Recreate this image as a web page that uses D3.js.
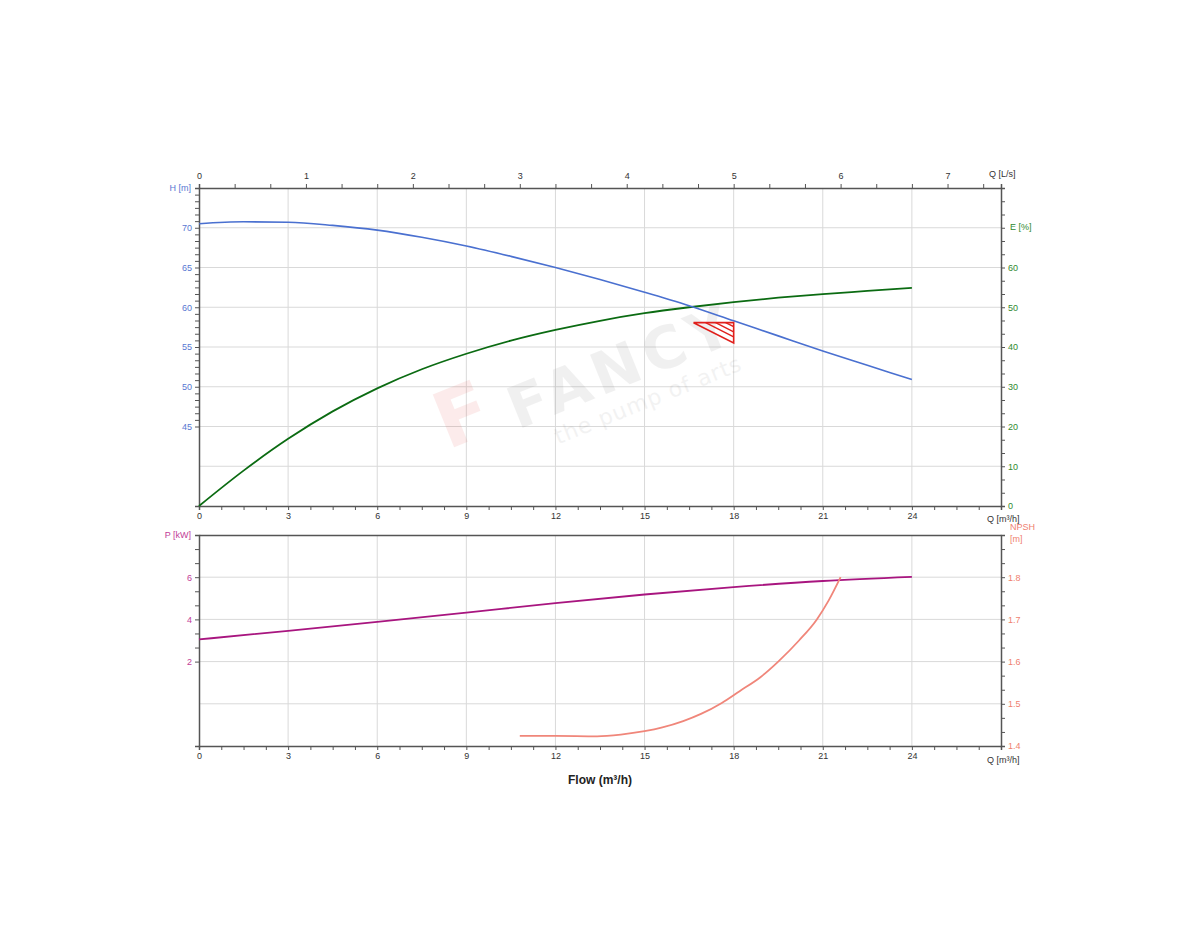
<!DOCTYPE html>
<html>
<head>
<meta charset="UTF-8">
<title>Pump curve</title>
<script src="https://cdn.jsdelivr.net/npm/d3@7/dist/d3.min.js"></script>
<style>
  body { margin: 0; background: #fff; }
  .axis text { font-family: "Liberation Sans", Arial, sans-serif; font-size: 9px; }
  .axis path.domain { stroke: #555; stroke-width: 1.5; }
  .axis line { stroke: #555; }
  .grid line { stroke: #d9d9d9; stroke-width: 1; }
  .unit { font-family: "Liberation Sans", Arial, sans-serif; font-size: 9px; }
</style>
</head>
<body>
<svg id="svg"></svg>
<script>
var WIDTH = 1200, HEIGHT = 950;
var LEFT = 199, RIGHT = 1001;
var TOP1 = 188, BOT1 = 506;
var TOP2 = 535, BOT2 = 746;

// ---- data ----
var flowQ = [0, 1.5, 3, 4.5, 6, 7.5, 9, 10.5, 12, 13.5, 15, 16.5, 18, 19.5, 21, 22.5, 24];
var headH = [70.5, 70.75, 70.7, 70.3, 69.7, 68.8, 67.7, 66.4, 65.0, 63.5, 61.9, 60.2, 58.3, 56.4, 54.5, 52.7, 50.9];
var effE  = [0, 8.9, 16.9, 23.8, 29.6, 34.4, 38.3, 41.6, 44.3, 46.6, 48.5, 50.0, 51.3, 52.4, 53.3, 54.1, 54.9];

var powerQ = [0, 3, 6, 9, 12, 15, 18, 21, 24];
var powerP = [3.05, 3.46, 3.88, 4.32, 4.77, 5.18, 5.53, 5.82, 6.02];

var npshQ = [10.8, 12, 13.4, 14.2, 15, 15.6, 16.3, 16.9, 17.6, 18.2, 18.9, 19.5, 20.2, 20.8, 21.2, 21.6];
var npshV = [1.424, 1.424, 1.423, 1.427, 1.435, 1.444, 1.459, 1.476, 1.502, 1.53, 1.563, 1.60, 1.65, 1.70, 1.745, 1.80];

// duty point tolerance triangle
var triQ = [16.65, 18, 18];
var triH = [58.06, 58.06, 55.5];

var qTicks = [0, 3, 6, 9, 12, 15, 18, 21, 24];
var hTicks = [45, 50, 55, 60, 65, 70];
var eTicks = [0, 10, 20, 30, 40, 50, 60];
var pTicks = [2, 4, 6];
var npshTicks = [1.4, 1.5, 1.6, 1.7, 1.8];

var C_H = "#4a70d0", C_HT = "#5877d2";
var C_E = "#0b6b12", C_ET = "#2f8a2f";
var C_P = "#a8157f", C_PT = "#c23c98";
var C_N = "#f0867a", C_NT = "#ef7f70";

var svg = d3.select("#svg").attr("width", WIDTH).attr("height", HEIGHT);

// scales
var x = d3.scaleLinear().domain([0, 27]).range([LEFT, RIGHT]);
var xLs = d3.scaleLinear().domain([0, 27 / 3.6]).range([LEFT, RIGHT]);
var yH = d3.scaleLinear().domain([35, 75]).range([BOT1, TOP1]);
var yE = d3.scaleLinear().domain([0, 80]).range([BOT1, TOP1]);
var yP = d3.scaleLinear().domain([-2, 8]).range([BOT2, TOP2]);
var yN = d3.scaleLinear().domain([1.4, 1.9]).range([BOT2, TOP2]);

function steps(a, b, s) {
  var out = [];
  for (var v = a; v <= b + 1e-9; v += s) out.push(+v.toFixed(4));
  return out;
}

// ---- grids ----
var g1 = svg.append("g").attr("class", "grid");
g1.selectAll("line.v").data(qTicks.slice(1)).enter().append("line")
  .attr("x1", d => x(d)).attr("x2", d => x(d)).attr("y1", TOP1).attr("y2", BOT1);
g1.selectAll("line.h").data([40, 45, 50, 55, 60, 65, 70]).enter().append("line")
  .attr("x1", LEFT).attr("x2", RIGHT).attr("y1", d => yH(d)).attr("y2", d => yH(d));

var g2 = svg.append("g").attr("class", "grid");
g2.selectAll("line.v").data(qTicks.slice(1)).enter().append("line")
  .attr("x1", d => x(d)).attr("x2", d => x(d)).attr("y1", TOP2).attr("y2", BOT2);
g2.selectAll("line.h").data([0, 2, 4, 6]).enter().append("line")
  .attr("x1", LEFT).attr("x2", RIGHT).attr("y1", d => yP(d)).attr("y2", d => yP(d));

// ---- watermark ----
function mark(cx, cy, size, color, op, txt, bold, spacing) {
  svg.append("text").attr("transform", "translate(" + cx + "," + cy + ") rotate(-22)")
    .attr("text-anchor", "middle").attr("dominant-baseline", "central")
    .attr("font-family", "DejaVu Sans, sans-serif")
    .attr("font-weight", bold ? "bold" : "normal")
    .attr("letter-spacing", spacing || 0)
    .attr("font-size", size).attr("fill", color).attr("opacity", op).text(txt);
}
mark(462, 415, 78, "#e0302a", 0.09, "F", true);
mark(622, 366, 58, "#777", 0.1, "FANCY", true, 6);
mark(648, 400, 22, "#777", 0.09, "the pump of arts", false, 1);

// ---- axes ----
function styleAxis(g, color) {
  g.attr("class", "axis");
  g.selectAll("text").attr("fill", color);
  return g;
}

// top chart bottom axis (m3/h)
var xMinor = steps(0, 27, 0.75);
svg.append("g").attr("transform", "translate(0," + BOT1 + ")")
  .call(d3.axisBottom(x).tickValues(xMinor).tickSize(4)
    .tickFormat(d => qTicks.indexOf(d) >= 0 ? d : ""))
  .call(g => styleAxis(g, "#333"));
// top axis (L/s)
svg.append("g").attr("transform", "translate(0," + TOP1 + ")")
  .call(d3.axisTop(xLs).tickValues(steps(0, 7.4, 1 / 3)).tickSize(4).tickPadding(5)
    .tickFormat(d => Math.abs(d - Math.round(d)) < 1e-3 ? Math.round(d) : ""))
  .call(g => styleAxis(g, "#333"));
// H axis
svg.append("g").attr("transform", "translate(" + LEFT + ",0)")
  .call(d3.axisLeft(yH).tickValues(steps(45, 75, 5 / 6)).tickSize(4)
    .tickFormat(d => hTicks.indexOf(Math.round(d * 1000) / 1000) >= 0 ? d : ""))
  .call(g => styleAxis(g, C_HT));
// E axis
svg.append("g").attr("transform", "translate(" + RIGHT + ",0)")
  .call(d3.axisRight(yE).tickValues(steps(0, 80, 10 / 3)).tickSize(4)
    .tickFormat(d => eTicks.indexOf(Math.round(d * 1000) / 1000) >= 0 ? d : ""))
  .call(g => styleAxis(g, C_ET));

// bottom chart axes
svg.append("g").attr("transform", "translate(0," + BOT2 + ")")
  .call(d3.axisBottom(x).tickValues(xMinor).tickSize(4)
    .tickFormat(d => qTicks.indexOf(d) >= 0 ? d : ""))
  .call(g => styleAxis(g, "#333"));
svg.append("g").attr("transform", "translate(0," + TOP2 + ")")
  .call(d3.axisTop(x).tickValues([]).tickSizeOuter(0))
  .call(g => styleAxis(g, "#333"));
svg.append("g").attr("transform", "translate(" + LEFT + ",0)")
  .call(d3.axisLeft(yP).tickValues(steps(2, 8, 2 / 3)).tickSize(4)
    .tickFormat(d => pTicks.indexOf(Math.round(d * 1000) / 1000) >= 0 ? d : ""))
  .call(g => styleAxis(g, C_PT));
svg.append("g").attr("transform", "translate(" + RIGHT + ",0)")
  .call(d3.axisRight(yN).tickValues(steps(1.4, 1.9, 1 / 30)).tickSize(4)
    .tickFormat(d => npshTicks.indexOf(Math.round(d * 1000) / 1000) >= 0 ? d3.format(".1f")(d) : ""))
  .call(g => styleAxis(g, C_NT));

// ---- unit labels ----
function unit(tx, ty, anchor, color, txt) {
  svg.append("text").attr("class", "unit").attr("x", tx).attr("y", ty)
    .attr("text-anchor", anchor).attr("dominant-baseline", "middle")
    .attr("fill", color).text(txt);
}
unit(989, 175, "start", "#333", "Q [L/s]");
unit(987, 520, "start", "#333", "Q [m³/h]");
unit(987, 761, "start", "#333", "Q [m³/h]");
unit(191, 189, "end", C_HT, "H [m]");
unit(1010, 228, "start", C_ET, "E [%]");
unit(191, 536, "end", C_PT, "P [kW]");
unit(1010, 528, "start", C_NT, "NPSH");
unit(1010, 540, "start", C_NT, "[m]");

svg.append("text").attr("x", 600).attr("y", 784).attr("text-anchor", "middle")
  .attr("font-family", "Liberation Sans, Arial, sans-serif").attr("font-weight", "bold")
  .attr("font-size", 12).attr("fill", "#222").text("Flow (m³/h)");

// ---- curves ----
function drawLine(qs, vs, ys, color, w) {
  var line = d3.line().curve(d3.curveMonotoneX)
    .x(d => x(d[0])).y(d => ys(d[1]));
  svg.append("path").datum(qs.map((q, i) => [q, vs[i]]))
    .attr("d", line).attr("fill", "none").attr("stroke", color).attr("stroke-width", w);
}
drawLine(flowQ, effE, yE, C_E, 1.8);
drawLine(flowQ, headH, yH, C_H, 1.6);
drawLine(powerQ, powerP, yP, C_P, 1.8);
drawLine(npshQ, npshV, yN, C_N, 1.8);

// ---- tolerance triangle with hatching ----
var tri = triQ.map((q, i) => [x(q), yH(triH[i])]);
svg.append("path").attr("d", "M" + tri.join("L") + "Z")
  .attr("fill", "none").attr("stroke", "#e0201c").attr("stroke-width", 1.6);
[0.3, 0.55, 0.8].forEach(function (t) {
  var x0 = tri[0][0] + t * (tri[1][0] - tri[0][0]);
  var y1 = tri[1][1] + (1 - t) * (tri[2][1] - tri[1][1]);
  svg.append("line").attr("x1", x0).attr("y1", tri[0][1]).attr("x2", tri[1][0]).attr("y2", y1)
    .attr("stroke", "#e0201c").attr("stroke-width", 1.4);
});
</script>
</body>
</html>
